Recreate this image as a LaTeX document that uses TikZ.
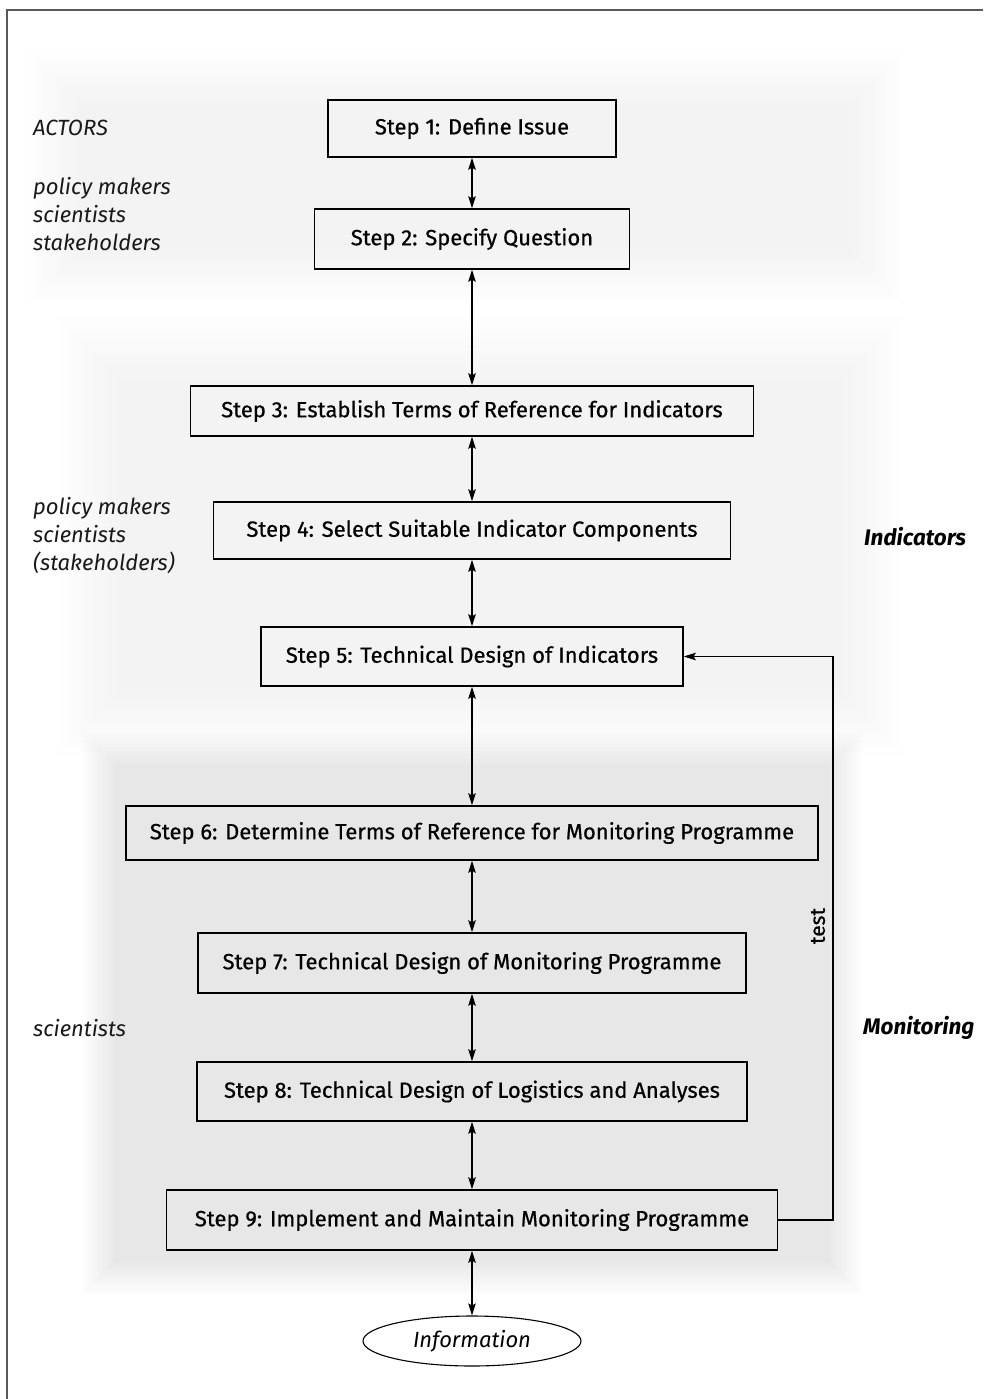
\documentclass[tikz,border=0pt]{standalone}
\usepackage{fontspec}
\setmainfont{Fira Sans}
\newfontfamily\boxfont{Fira Sans}[FakeBold=0.6]
\usetikzlibrary{arrows.meta,shapes.geometric,calc}
\newcommand\softrect[6]{% x1 y1 x2 y2 alpha step
  \foreach \k in {0,...,11}{%
    \fill[black, opacity=#5] ({#1+\k*#6},{#2+\k*#6}) rectangle ({#3-\k*#6},{#4-\k*#6});}}
\tikzset{
  stepbox/.style={draw=black, line width=1.5pt, minimum height=#1, inner sep=0pt,
    font=\boxfont\fontsize{22}{25}\selectfont, text=black},
  stepbox/.default=58pt,
  arr/.style={line width=1.2pt, {Stealth[length=12pt,width=7.5pt,inset=2pt]}-{Stealth[length=12pt,width=7.5pt,inset=2pt]}},
  onearr/.style={line width=1.2pt, -{Stealth[length=12pt,width=7.5pt,inset=2pt]}},
  actor/.style={font=\fontsize{22}{28}\selectfont\itshape, align=left, anchor=west, inner sep=0pt, text=black!90},
  phase/.style={font=\fontsize{22.5}{26}\selectfont\bfseries\itshape, anchor=west, inner sep=0pt},
}
\begin{document}
\begin{tikzpicture}[x=1pt,y=-1pt]
\useasboundingbox (0,0) rectangle (983,1399);
\fill[white] (0,0) rectangle (983,1399);
% soft grey backgrounds
\softrect{25}{50}{905}{305}{0.0022}{5}
\softrect{55}{315}{905}{755}{0.0034}{6}
\softrect{82}{732}{862}{1295}{0.0070}{3}
\softrect{50}{1280}{965}{1395}{0.0016}{4}
% frame
\draw[line width=1.5pt, black!65] (983,10) -- (7,10) -- (7,1399);
% steps
\node[stepbox=57pt, minimum width=288pt] (s1) at (472,128.5) {Step 1: Define Issue};
\node[stepbox=60pt, minimum width=315pt] (s2) at (472,239) {Step 2: Specify Question};
\node[stepbox=50pt, minimum width=563pt] (s3) at (472,411) {Step 3: Establish Terms of Reference for Indicators};
\node[stepbox=57pt, minimum width=517pt] (s4) at (472,530.5) {Step 4: Select Suitable Indicator Components};
\node[stepbox=59pt, minimum width=422pt] (s5) at (472,656.5) {Step 5: Technical Design of Indicators};
\node[stepbox=54pt, minimum width=692pt] (s6) at (472,833) {Step 6: Determine Terms of Reference for Monitoring Programme};
\node[stepbox=60pt, minimum width=548pt] (s7) at (472,963) {Step 7: Technical Design of Monitoring Programme};
\node[stepbox=59pt, minimum width=550pt] (s8) at (472,1091.5) {Step 8: Technical Design of Logistics and Analyses};
\node[stepbox=60pt, minimum width=611pt] (s9) at (472,1220) {Step 9: Implement and Maintain Monitoring Programme};
\node[draw=black, line width=1.1pt, ellipse, minimum width=218pt, minimum height=50pt, inner sep=0pt,
      font=\fontsize{22}{25}\selectfont\itshape, text=black] (info) at (472,1341) {Information};
% connectors
\draw[arr] (s1.south) -- (s2.north);
\draw[arr] (s2.south) -- (s3.north);
\draw[arr] (s3.south) -- (s4.north);
\draw[arr] (s4.south) -- (s5.north);
\draw[arr] (s5.south) -- (s6.north);
\draw[arr] (s6.south) -- (s7.north);
\draw[arr] (s7.south) -- (s8.north);
\draw[arr] (s8.south) -- (s9.north);
\draw[arr] (s9.south) -- (info.north);
\coordinate (loop) at (833,656.5);
\draw[onearr] (s9.east) -| (loop) -- (s5.east);
\node[rotate=90, font=\boxfont\fontsize{21}{25}\selectfont, inner sep=0pt, text=black] (test) at (818,926) {test};
% actors
\node[actor] (actors) at (33,128) {ACTORS};
\node[actor] (a1) at (33,214) {policy makers\\scientists\\stakeholders};
\node[actor] (a2) at (33,536) {policy makers\\scientists\\(stakeholders)};
\node[actor] (a3) at (33,1028) {scientists};
% phases
\node[phase] (ind) at (864,537) {Indicators};
\node[phase] (mon) at (863,1028) {Monitoring};
\end{tikzpicture}
\end{document}
